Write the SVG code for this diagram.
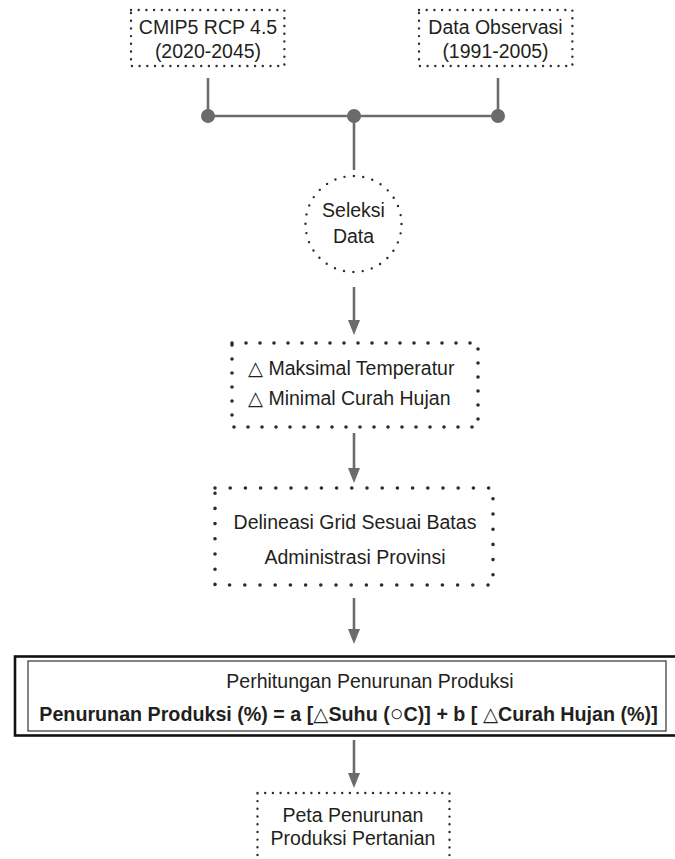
<svg xmlns="http://www.w3.org/2000/svg" width="675" height="859" viewBox="0 0 675 859">
<defs>
<style>
text{font-family:"Liberation Sans",Arial,"DejaVu Sans",sans-serif;font-size:19.5px;fill:#231f20}
.c{text-anchor:middle}
.b{font-weight:bold;font-size:19.7px}
.dots{fill:none;stroke:#2b2b2b;stroke-linecap:round}
.d1{stroke-width:2.4;stroke-dasharray:0 7.7}
.d2{stroke-width:3.6;stroke-dasharray:0 14}
.d3{stroke-width:3.6;stroke-dasharray:0 15.2}
.ln{stroke:#6b6b6b;stroke-width:2.6;fill:none}
.jn{fill:#6b6b6b}
</style>
</defs>
<rect width="675" height="859" fill="#ffffff"/>

<g id="connectors">
<line class="ln" x1="208" y1="78" x2="208" y2="116"/>
<line class="ln" x1="498" y1="78" x2="498" y2="116"/>
<line class="ln" x1="208" y1="116" x2="498" y2="116"/>
<line class="ln" x1="354" y1="116" x2="354" y2="170"/>
<circle class="jn" cx="208" cy="116" r="7"/>
<circle class="jn" cx="354" cy="116" r="7"/>
<circle class="jn" cx="498" cy="116" r="7"/>
<path d="M354,287 V320" class="ln"/><path d="M348,320 L360,320 L354,335 Z" class="jn"/>
<path d="M354,433 V468" class="ln"/><path d="M348,468 L360,468 L354,483 Z" class="jn"/>
<path d="M354,598 V629" class="ln"/><path d="M348,629 L360,629 L354,644 Z" class="jn"/>
<path d="M354,740 V773" class="ln"/><path d="M348,773 L360,773 L354,788 Z" class="jn"/>
</g>

<g id="n-cmip5">
<rect class="dots d1" x="131" y="10" width="153.4" height="56"/>
<text class="c" x="208" y="34">CMIP5 RCP 4.5</text>
<text class="c" x="208" y="58">(2020-2045)</text>
</g>

<g id="n-obs">
<rect class="dots d1" x="419" y="10" width="153.4" height="56"/>
<text class="c" x="495.5" y="34">Data Observasi</text>
<text class="c" x="495.5" y="58">(1991-2005)</text>
</g>

<g id="n-seleksi">
<circle class="dots" cx="353.5" cy="224" r="48" stroke-width="2.4" stroke-dasharray="0 9.425"/>
<text class="c" x="353.5" y="216.5">Seleksi</text>
<text class="c" x="353.5" y="242.5">Data</text>
</g>

<g id="n-delta">
<rect class="dots d2" x="232" y="343" width="246" height="84"/>
<text x="248" y="374.5">△ Maksimal Temperatur</text>
<text x="248" y="405">△ Minimal Curah Hujan</text>
</g>

<g id="n-delineasi">
<rect class="dots d3" x="215" y="488" width="278" height="97"/>
<text class="c" x="355" y="528.5">Delineasi Grid Sesuai Batas</text>
<text class="c" x="355" y="563.5">Administrasi Provinsi</text>
</g>

<g id="n-perhitungan">
<rect x="15" y="656.5" width="700" height="79" fill="none" stroke="#111" stroke-width="2.6"/>
<rect x="28" y="661" width="638" height="70" fill="none" stroke="#333" stroke-width="1.2"/>
<text class="c" x="370" y="688" font-size="20.5">Perhitungan Penurunan Produksi</text>
<text class="c b" x="348.5" y="721">Penurunan Produksi (%) = a [△Suhu (<tspan font-size="23">○</tspan>C)] + b [ △Curah Hujan (%)]</text>
</g>

<g id="n-peta">
<rect class="dots d1" x="257.5" y="793" width="192" height="70"/>
<text class="c" x="353" y="822">Peta Penurunan</text>
<text class="c" x="353" y="845">Produksi Pertanian</text>
</g>
</svg>
